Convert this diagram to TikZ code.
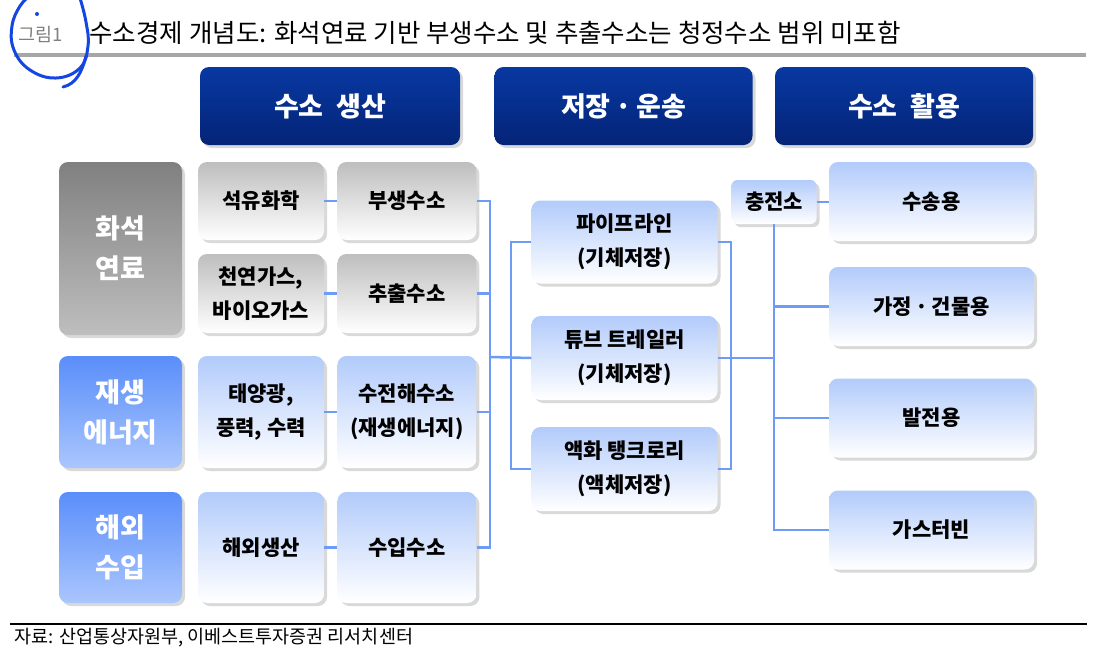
\documentclass[tikz,border=0pt]{standalone}
\usepackage{fontspec}
\setmainfont{Noto Sans CJK KR}
\usetikzlibrary{positioning, shadows}

\definecolor{navytop}{RGB}{8,56,162}
\definecolor{navybot}{RGB}{4,36,118}
\definecolor{graytop}{RGB}{128,128,128}
\definecolor{graybot}{RGB}{190,190,190}
\definecolor{bluetop}{RGB}{90,142,250}
\definecolor{bluebot}{RGB}{170,198,253}
\definecolor{greyitem}{RGB}{190,190,190}
\definecolor{blueitem}{RGB}{178,203,251}
\definecolor{linkblue}{RGB}{110,155,245}
\definecolor{annotblue}{RGB}{20,70,225}
\definecolor{rulegray}{RGB}{166,166,166}

\begin{document}
\begin{tikzpicture}[
    x=1pt, y=-1pt,
    font=\fontsize{21}{34}\selectfont\bfseries,
    base/.style={rounded corners=9pt, align=center, inner sep=2pt,
      drop shadow={shadow xshift=3pt, shadow yshift=-3pt, opacity=0.3}},
    head/.style={base, top color=navytop, bottom color=navybot, text=white,
      font=\fontsize{27}{30}\selectfont\bfseries, minimum width=258pt, minimum height=78pt},
    fossil/.style={base, top color=graytop, bottom color=graybot, text=white,
      font=\fontsize{27}{40}\selectfont\bfseries, minimum width=123pt},
    renew/.style={fossil, top color=bluetop, bottom color=bluebot},
    gbox/.style={base, top color=greyitem, bottom color=white},
    bbox/.style={base, top color=blueitem, bottom color=white},
    link/.style={draw=linkblue, line width=2.5pt},
    annot/.style={draw=annotblue, line width=3pt, line cap=round}
  ]
    \useasboundingbox (0,0) rectangle (1093,662);

    % title
    \node[anchor=west, text=gray, font=\fontsize{18.5}{20}\selectfont] (fig) at (15,34) {그림1};
    \node[anchor=west, font=\fontsize{25.5}{28}\selectfont] (title) at (86,33)
      {수소경제 개념도: 화석연료 기반 부생수소 및 추출수소는 청정수소 범위 미포함};
    \draw[rulegray, line width=4pt] (14,55) -- (1086,55);

    % column heads
    \node[head, minimum width=260pt] (hprod) at (330,106) {수소~~생산};
    \node[head] (htrans) at (623.5,106) {저장\,·\,운송};
    \node[head] (huse) at (904,106) {수소~~활용};

    % production side
    \node[fossil, minimum height=173pt] (fossil) at (120.5,248.5) {화석\\연료};
    \node[renew, minimum height=112pt] (renew) at (120.5,412) {재생\\에너지};
    \node[renew, minimum height=111pt] (abroad) at (120.5,547.5) {해외\\수입};

    \node[gbox, minimum width=126pt, minimum height=78pt] (petro) at (261,201) {석유화학};
    \node[gbox, minimum width=126pt, minimum height=79pt] (gas) at (261,293.5) {천연가스,\\바이오가스};
    \node[bbox, minimum width=126pt, minimum height=112pt] (solar) at (261,412) {태양광,\\풍력, 수력};
    \node[bbox, minimum width=126pt, minimum height=111pt] (oversea) at (261,547.5) {해외생산};

    \node[gbox, minimum width=139pt, minimum height=78pt, right=13pt of petro] (byprod) {부생수소};
    \node[gbox, minimum width=139pt, minimum height=79pt, right=13pt of gas] (extract) {추출수소};
    \node[bbox, minimum width=139pt, minimum height=112pt, right=13pt of solar] (electro) {수전해수소\\(재생에너지)};
    \node[bbox, minimum width=139pt, minimum height=111pt, right=13pt of oversea] (import) {수입수소};

    % storage and transport
    \node[bbox, minimum width=186pt, minimum height=83pt] (pipe) at (624.5,242) {파이프라인\\(기체저장)};
    \node[bbox, minimum width=186pt, minimum height=84pt] (tube) at (624.5,358) {튜브 트레일러\\(기체저장)};
    \node[bbox, minimum width=186pt, minimum height=84pt] (tank) at (624.5,469) {액화 탱크로리\\(액체저장)};

    % use side
    \node[bbox, rounded corners=6pt, minimum width=85pt, minimum height=44pt, inner sep=1pt,
      font=\fontsize{21}{22}\selectfont\bfseries] (station) at (774,202) {충전소};
    \node[bbox, minimum width=205pt, minimum height=79pt] (mobil) at (931.5,201.5) {수송용};
    \node[bbox, minimum width=205pt, minimum height=79pt] (home) at (931.5,306.5) {가정\,·\,건물용};
    \node[bbox, minimum width=205pt, minimum height=79pt] (power) at (931.5,418) {발전용};
    \node[bbox, minimum width=205pt, minimum height=79pt] (turbine) at (931.5,530) {가스터빈};

    % connectors
    \coordinate (jl) at (490,357);
    \coordinate (jm) at (511,357);
    \coordinate (jr) at (731,357);
    \draw[link] (petro) -- (byprod);
    \draw[link] (gas) -- (extract);
    \draw[link] (solar) -- (electro);
    \draw[link] (oversea) -- (import);
    \draw[link] (byprod.east) -| (jl);
    \draw[link] (import.east) -| (jl);
    \draw[link] (extract.east) -- (extract.east -| jl);
    \draw[link] (electro.east) -- (electro.east -| jl);
    \draw[link] (jl) -- (tube.west);
    \draw[link] (pipe.west) -| (jm);
    \draw[link] (tank.west) -| (jm);
    \draw[link] (pipe.east) -| (jr);
    \draw[link] (tank.east) -| (jr);
    \draw[link] (tube.east) -- (tube.east -| station.south);
    \draw[link] (station.east) -- (station.east -| mobil.west);
    \draw[link] (station.south) |- (turbine.west);
    \draw[link] (home.west) -- (home.west -| station.south);
    \draw[link] (power.west) -- (power.west -| station.south);

    % source line
    \draw[black, line width=1.5pt] (10,624) -- (1087,624);
    \node[anchor=west, font=\fontsize{18.5}{20}\selectfont] (source) at (11,638)
      {자료: 산업통상자원부, 이베스트투자증권 리서치센터};

    % pen mark round the figure number
    \draw[annot] plot[smooth, tension=0.7] coordinates
      {(80,-2) (86,22) (88,46) (80,68) (56,78) (30,70) (14,50) (12,26) (20,6) (30,-4)};
    \draw[annot] (86,56) .. controls (82,72) and (76,84) .. (63,87);
    \fill[annotblue] (37,14) circle (2);
\end{tikzpicture}
\end{document}
